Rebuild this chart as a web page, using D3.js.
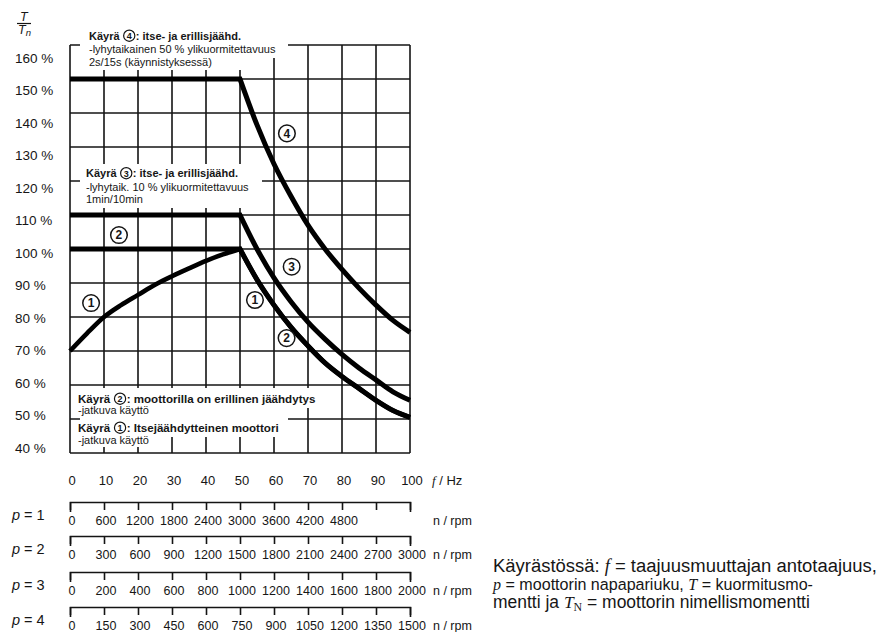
<!DOCTYPE html>
<html>
<head>
<meta charset="utf-8">
<script src="https://cdn.jsdelivr.net/npm/d3@7"></script>
<style>
  body { margin: 0; background: #fff; }
  svg { display: block; }
  text { font-family: "Liberation Sans", Arial, sans-serif; fill: #161616; white-space: pre; }
</style>
</head>
<body>
<svg id="chart" width="881" height="632"></svg>
<script>
// ---------- data ----------
const torqueTicks = [40, 50, 60, 70, 80, 90, 100, 110, 120, 130, 140, 150, 160];
const freqTicks = [0, 10, 20, 30, 40, 50, 60, 70, 80, 90, 100];

// constant-torque region (0 … 50 Hz)
const fFlat = [0, 50];
const curve2Flat = [100, 100];
const curve3Flat = [110, 110];
const curve4Flat = [150, 150];

// self-cooled motor: rising torque up to 50 Hz
const fRise = [0, 5, 10, 15, 20, 25, 30, 35, 40, 45, 50];
const curve1Rise = [70, 75.2, 80, 83.5, 86.5, 89.5, 92, 94.3, 96.5, 98.4, 100];

// field-weakening region (50 … 100 Hz)
const fFall = [50, 55, 60, 65, 70, 75, 80, 85, 90, 95, 100];
const curve12Fall = [100, 91, 83.5, 77, 71.5, 66.5, 62.5, 59, 55.5, 52.5, 50.5];
const curve3Fall = [110, 100, 91.5, 84.5, 78.5, 73.5, 69, 65, 61.5, 58, 55.5];
const curve4Fall = [150, 136.5, 125, 115.5, 107, 100, 94, 88.5, 83.5, 79, 75.5];

// speed scales for pole-pair numbers p = 1 … 4
const poleNumbers = [1, 2, 3, 4];
const rpmP1 = [0, 600, 1200, 1800, 2400, 3000, 3600, 4200, 4800];
const rpmP2 = [0, 300, 600, 900, 1200, 1500, 1800, 2100, 2400, 2700, 3000];
const rpmP3 = [0, 200, 400, 600, 800, 1000, 1200, 1400, 1600, 1800, 2000];
const rpmP4 = [0, 150, 300, 450, 600, 750, 900, 1050, 1200, 1350, 1500];

// curve markers (frequency, torque %)
const markerNum = [4, 3, 2, 1, 1, 2];
const markerF = [63.8, 65.2, 14.4, 6.2, 54.4, 63.7];
const markerT = [134, 94.8, 104.1, 84.1, 85, 73.8];

// ---------- layout ----------
const svg = d3.select("#chart");
const x = d3.scaleLinear().domain([0, 100]).range([70, 410]);
const y = d3.scaleLinear().domain([40, 160]).range([453, 45]);
const yLabel = d3.scaleLinear().domain([40, 160]).range([448, 58]);
const ink = "#141414";

// grid
const grid = svg.append("g").attr("stroke", ink).attr("stroke-width", 1.6);
grid.selectAll("line.v").data(freqTicks).join("line")
  .attr("x1", d => x(d)).attr("x2", d => x(d))
  .attr("y1", y(160)).attr("y2", y(40));
grid.selectAll("line.h").data(torqueTicks).join("line")
  .attr("x1", x(0)).attr("x2", x(100))
  .attr("y1", d => y(d)).attr("y2", d => y(d));

// y tick labels
svg.append("g").selectAll("text").data(torqueTicks).join("text")
  .attr("x", 15).attr("y", d => yLabel(d)).attr("dy", "0.36em")
  .attr("font-size", 13.5).text(d => d + " %");

// T / Tn
const frac = svg.append("g");
frac.append("text").attr("x", 20).attr("y", 21).attr("font-size", 12.5)
  .attr("font-style", "italic").text("T");
frac.append("line").attr("x1", 17).attr("x2", 31).attr("y1", 23.5).attr("y2", 23.5)
  .attr("stroke", ink).attr("stroke-width", 1.2);
const tn = frac.append("text").attr("x", 18).attr("y", 34).attr("font-size", 12.5).attr("font-style", "italic");
tn.append("tspan").text("T");
tn.append("tspan").attr("font-size", 9.5).attr("dy", 2).text("n");

// white panels behind the legend blocks inside the grid
const masks = [
  [80, 30, 208, 28], [80, 58, 165, 12],
  [80, 164, 182, 44],
  [80, 388, 238, 20], [80, 408, 208, 29], [80, 437, 75, 10]
];
svg.append("g").selectAll("rect").data(masks).join("rect")
  .attr("x", d => d[0]).attr("y", d => d[1]).attr("width", d => d[2]).attr("height", d => d[3])
  .attr("fill", "#fff");

// legend lines with inline circled numbers
function richLine(x0, yb, parts, size, weight) {
  let cx = x0;
  const g = svg.append("g");
  parts.forEach(p => {
    if (typeof p === "number") {
      const r = 5.6;
      g.append("circle").attr("cx", cx + r + 1).attr("cy", yb - 3.8).attr("r", r)
        .attr("fill", "#fff").attr("stroke", ink).attr("stroke-width", 1.2);
      g.append("text").attr("x", cx + r + 1).attr("y", yb - 0.5).attr("text-anchor", "middle")
        .attr("font-size", 9).attr("font-weight", "bold").text(p);
      cx += 2 * r + 2;
    } else {
      const t = g.append("text").attr("x", cx).attr("y", yb)
        .attr("font-size", size).attr("font-weight", weight).text(p);
      cx += t.node().getComputedTextLength();
    }
  });
}
richLine(89, 39.5, ["Käyrä ", 4, ": itse- ja erillisjäähd."], 11, "bold");
richLine(89, 53, ["-lyhytaikainen 50 % ylikuormitettavuus"], 11, "normal");
richLine(89, 65.5, ["2s/15s (käynnistyksessä)"], 11, "normal");

richLine(86, 177, ["Käyrä ", 3, ": itse- ja erillisjäähd."], 11, "bold");
richLine(86, 190.5, ["-lyhytaik. 10 % ylikuormitettavuus"], 11, "normal");
richLine(86, 203, ["1min/10min"], 11, "normal");

richLine(78, 402.5, ["Käyrä ", 2, ": moottorilla on erillinen jäähdytys"], 11.6, "bold");
richLine(78, 414, ["-jatkuva käyttö"], 11, "normal");
richLine(78, 431.5, ["Käyrä ", 1, ": Itsejäähdytteinen moottori"], 11.6, "bold");
richLine(78, 444, ["-jatkuva käyttö"], 11, "normal");

// curves
const lineGen = d3.line().x(d => x(d[0])).y(d => y(d[1]));
const smoothGen = d3.line().x(d => x(d[0])).y(d => y(d[1])).curve(d3.curveMonotoneX);
const zip = (a, b) => a.map((v, i) => [v, b[i]]);
function joined(first, second, firstSmooth) {
  const a = (firstSmooth ? smoothGen : lineGen)(first);
  const b = smoothGen(second).replace(/^M/, "L");
  return a + b;
}
const curves = svg.append("g").attr("fill", "none").attr("stroke", "#000")
  .attr("stroke-width", 5).attr("stroke-linejoin", "miter");
curves.append("path").attr("d", joined(zip(fFlat, curve4Flat), zip(fFall, curve4Fall), false));
curves.append("path").attr("d", joined(zip(fFlat, curve3Flat), zip(fFall, curve3Fall), false));
curves.append("path").attr("d", joined(zip(fFlat, curve2Flat), zip(fFall, curve12Fall), false));
curves.append("path").attr("stroke-width", 4.6)
  .attr("d", joined(zip(fRise, curve1Rise), zip(fFall, curve12Fall), true));

// circled curve numbers
const mk = svg.append("g").selectAll("g").data(markerNum.map((n, i) => ({ n, f: markerF[i], t: markerT[i] })))
  .join("g").attr("transform", d => `translate(${x(d.f)},${y(d.t)})`);
mk.append("circle").attr("r", 8.3).attr("fill", "#fff").attr("stroke", ink).attr("stroke-width", 1.5);
mk.append("text").attr("text-anchor", "middle").attr("dy", "0.36em")
  .attr("font-size", 12).attr("font-weight", "bold").text(d => d.n);

// frequency labels
const fAxis = svg.append("g");
fAxis.selectAll("text").data(freqTicks).join("text")
  .attr("x", d => x(d) + 2).attr("y", 480).attr("dy", "0.36em").attr("text-anchor", "middle")
  .attr("font-size", 13).text(d => d);
const fUnit = fAxis.append("text").attr("x", 432).attr("y", 480).attr("dy", "0.36em").attr("font-size", 13);
fUnit.append("tspan").attr("font-family", "Liberation Serif, Times New Roman, serif").attr("font-style", "italic").text("f");
fUnit.append("tspan").text(" / Hz");

// speed scales
const rpmLists = [rpmP1, rpmP2, rpmP3, rpmP4];
const rowY = [502, 536, 572, 607];
poleNumbers.forEach((p, i) => {
  const labels = rpmLists[i];
  const maxRpm = 6000 / p;
  const s = d3.scaleLinear().domain([0, maxRpm]).range([x(0), x(100)]);
  const ticks = d3.range(0, 11).map(k => k * maxRpm / 10);
  const axis = d3.axisBottom(s).tickValues(ticks)
    .tickSizeInner(8).tickSizeOuter(10).tickPadding(5)
    .tickFormat(v => labels.includes(Math.round(v)) ? String(Math.round(v)) : "");
  const g = svg.append("g").attr("transform", `translate(0,${rowY[i]})`).call(axis);
  g.select(".domain").attr("stroke", ink).attr("stroke-width", 1.6);
  g.selectAll(".tick line").attr("stroke", ink).attr("stroke-width", 1.6);
  g.selectAll(".tick text").attr("font-size", 12.5).attr("fill", "#161616")
    .attr("font-family", "Liberation Sans, Arial, sans-serif").attr("y", 18).attr("dy", "0.36em")
    .attr("dx", 1.5);
  g.append("text").attr("x", 433).attr("y", 18).attr("dy", "0.36em").attr("font-size", 12.5)
    .attr("text-anchor", "start").attr("font-family", "Liberation Sans, Arial, sans-serif")
    .attr("fill", "#161616").text("n / rpm");
  const pl = svg.append("text").attr("x", 12).attr("y", rowY[i] + 13).attr("dy", "0.36em").attr("font-size", 14.5);
  pl.append("tspan").attr("font-style", "italic").text("p");
  pl.append("tspan").text(" = " + p);
});

// explanation text, each line sized to its printed width
const serif = "Liberation Serif, Times New Roman, serif";
const note = svg.append("g");
function noteLine(yb, parts, width) {
  const t = note.append("text").attr("x", 493).attr("y", yb).attr("font-size", 16);
  parts.forEach(p => {
    const ts = t.append("tspan").text(p.s);
    if (p.i) ts.attr("font-family", serif).attr("font-style", "italic");
    if (p.sub) ts.attr("font-family", serif).attr("font-size", "0.68em").attr("dy", 3);
    if (p.up) ts.attr("dy", -3);
  });
  const w = t.node().getComputedTextLength();
  t.attr("font-size", 16 * width / w);
}
noteLine(572, [{ s: "Käyrästössä: " }, { s: "f", i: true }, { s: " = taajuusmuuttajan antotaajuus," }], 384);
noteLine(590, [{ s: "p", i: true }, { s: " = moottorin napapariuku, " }, { s: "T", i: true }, { s: " = kuormitusmo-" }], 320);
noteLine(608, [{ s: "mentti ja " }, { s: "T", i: true }, { s: "N", sub: true }, { s: " = moottorin nimellismomentti", up: true }], 317);
</script>
</body>
</html>
